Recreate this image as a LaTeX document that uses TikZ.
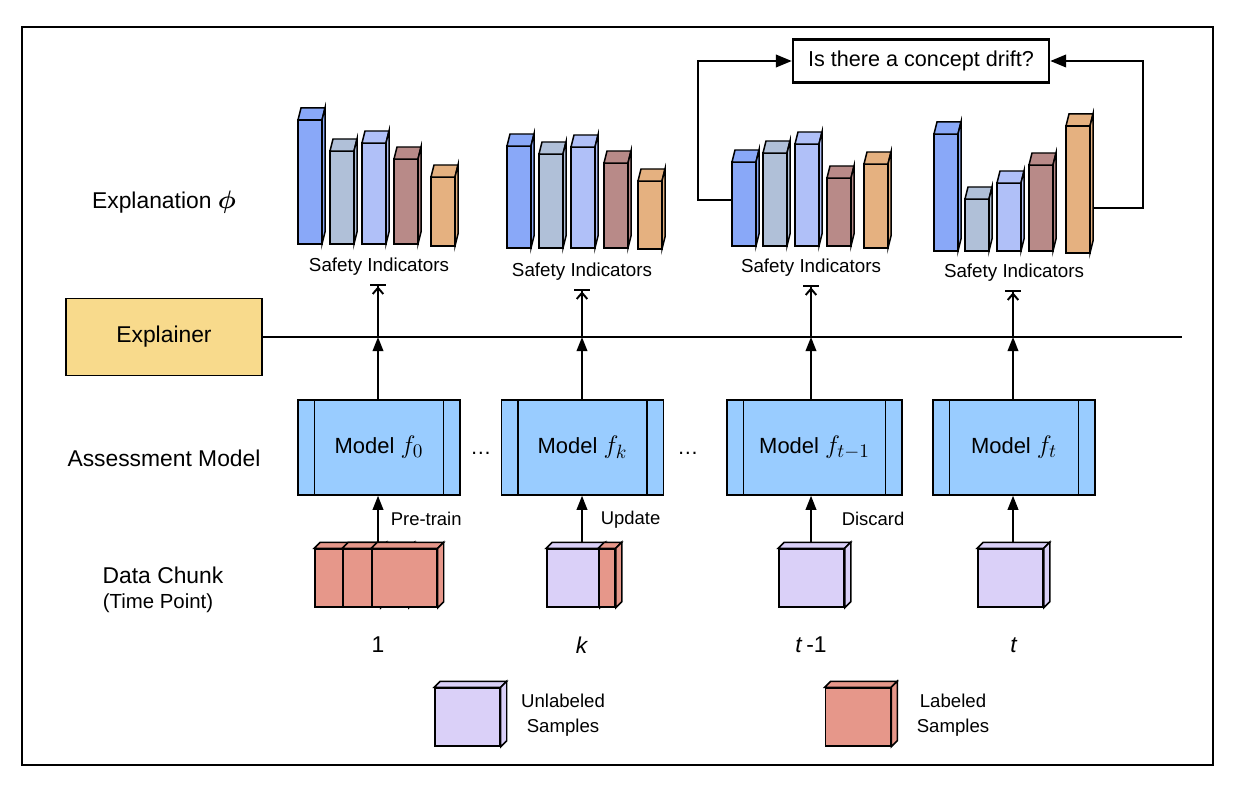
\documentclass[tikz,border=0pt]{standalone}
\usepackage{fontspec}
\setmainfont{Liberation Sans}
\usepackage{amsmath}
\usepackage{bm}
\usetikzlibrary{arrows.meta}

\definecolor{barA}{HTML}{89A8F8}
\definecolor{barB}{HTML}{B0C0D8}
\definecolor{barC}{HTML}{B0C0F8}
\definecolor{barD}{HTML}{B88A88}
\definecolor{barE}{HTML}{E5B180}
\definecolor{modelblue}{HTML}{99CCFF}
\definecolor{explyellow}{HTML}{F8DA8C}
\definecolor{labred}{HTML}{E6978A}
\definecolor{unlabpurple}{HTML}{DAD0F8}

\newcommand{\sibar}[4]{%
  \filldraw[fill=#4] (#1,#3) rectangle (#1+24,#2);
  \filldraw[fill=#4] (#1,#2) -- (#1+3,#2-12) -- (#1+27,#2-12) -- (#1+24,#2) -- cycle;
  \filldraw[fill=#4] (#1+24,#2) -- (#1+27,#2-12) -- (#1+27,#3-12) -- (#1+24,#3) -- cycle;}
\newcommand{\cubefaces}[2]{%
  \filldraw[fill=#2] (#1.north west) -- ++(6,-6) -- ([shift={(6,-6)}]#1.north east) -- (#1.north east) -- cycle;
  \filldraw[fill=#2] (#1.north east) -- ++(6,-6) -- ([shift={(6,-6)}]#1.south east) -- (#1.south east) -- cycle;}
\newcommand{\mf}[1]{{\fontsize{15}{17}\selectfont$f_{#1}$}}

\begin{document}
\begin{tikzpicture}[x=0.02cm, y=-0.02cm, line width=0.85pt,
  side label/.style={font=\fontsize{13}{15}\selectfont},
  model node/.style={draw, fill=modelblue, minimum width=3.24cm, minimum height=1.9cm,
    font=\fontsize{12.5}{14}\selectfont,
    path picture={
      \draw ([xshift=0.33cm]path picture bounding box.north west) -- ([xshift=0.33cm]path picture bounding box.south west);
      \draw ([xshift=-0.33cm]path picture bounding box.north east) -- ([xshift=-0.33cm]path picture bounding box.south east);}},
  chunk node/.style={draw, fill=#1, inner sep=0pt, minimum width=1.3cm, minimum height=1.16cm},
  si label/.style={font=\fontsize{10.7}{12}\selectfont, inner ysep=4.5pt},
  small label/.style={font=\fontsize{10.5}{12}\selectfont, anchor=west},
  up arrow/.style={line width=1.1pt, -{Triangle[length=8pt, width=6pt]}},
  tee arrow/.style={line width=1.1pt, -{Straight Barb[length=3.5pt, width=6pt] Bar[width=9pt]}},
  loop arrow/.style={line width=1.4pt, -{Triangle[length=9pt, width=7pt]}}]
\useasboundingbox (0,0) rectangle (1250,800);
\draw[line width=1.2pt] (22,27) rectangle (1213,765);

\node[side label] (lexp) at (164,202) {Explanation {\fontsize{15}{17}\selectfont$\bm{\phi}$}};
\node[side label, draw, fill=explyellow, minimum width=3.92cm, minimum height=1.54cm] (ex) at (164,337) {Explainer};
\node[side label] (lass) at (164,458) {Assessment Model};
\node[side label] (ldata) at (163,575) {Data Chunk};
\node[font=\fontsize{11.6}{13}\selectfont] (ltime) at (158,603) {(Time Point)};

\sibar{298}{120}{244}{barA}
\sibar{330}{151}{244}{barB}
\sibar{362}{143}{244}{barC}
\sibar{394}{159}{244}{barD}
\sibar{431}{177}{246}{barE}
\sibar{507}{146}{248}{barA}
\sibar{539}{154}{248}{barB}
\sibar{571}{147}{248}{barC}
\sibar{604}{163}{248}{barD}
\sibar{638}{181}{249}{barE}
\sibar{732}{162}{246}{barA}
\sibar{763}{153}{246}{barB}
\sibar{795}{144}{246}{barC}
\sibar{827}{178}{246}{barD}
\sibar{864}{164}{248}{barE}
\sibar{934}{134}{251}{barA}
\sibar{965}{199}{251}{barB}
\sibar{997}{183}{251}{barC}
\sibar{1029}{165}{251}{barD}
\sibar{1066}{126}{253}{barE}

\node[si label] (s0) at (379,267) {Safety Indicators};
\node[si label] (s1) at (582,272) {Safety Indicators};
\node[si label] (s2) at (811,268) {Safety Indicators};
\node[si label] (s3) at (1014,273) {Safety Indicators};

\node[draw, line width=1.4pt, minimum width=5.12cm, minimum height=0.86cm,
      font=\fontsize{12.3}{14}\selectfont] (q) at (921,61) {Is there a concept drift?};
\coordinate (b3) at (732,200);
\coordinate (b4) at (1093,208);
\draw[loop arrow] (b3) -- ++(-34,0) |- (q.west);
\draw[loop arrow] (b4) -- ++(50,0) |- (q.east);

\node[model node] (m0) at (379,447.5) {Model \mf{0}};
\node[model node] (m1) at (582.5,447.5) {Model \mf{k}};
\node[model node, minimum width=3.5cm] (m2) at (814.5,447.5) {Model \mf{t-1}};
\node[model node] (m3) at (1014,447.5) {Model \mf{t}};
\node[font=\fontsize{12}{14}\selectfont] (dots0) at (481,453) {\dots};
\node[font=\fontsize{12}{14}\selectfont] (dots1) at (688,453) {\dots};

\coordinate (lineend) at (1182,337);
\draw[line width=1.3pt] (ex.east) -- (lineend);

\node[chunk node=labred] (d0a) at (347.5,578) {};
\cubefaces{d0a}{labred}
\node[chunk node=labred] (d0b) at (375.5,578) {};
\cubefaces{d0b}{labred}
\node[chunk node=labred] (d0c) at (404.5,578) {};
\cubefaces{d0c}{labred}
\node[chunk node=unlabpurple, minimum width=1.04cm] (d1a) at (573,578) {};
\cubefaces{d1a}{unlabpurple}
\node[chunk node=labred, minimum width=0.32cm] (d1b) at (607,578) {};
\cubefaces{d1b}{labred}
\node[chunk node=unlabpurple] (d2) at (811.5,578) {};
\cubefaces{d2}{unlabpurple}
\node[chunk node=unlabpurple] (d3) at (1010.5,578) {};
\cubefaces{d3}{unlabpurple}

\coordinate (t0) at (378,543);
\coordinate (t1) at (582,543);
\coordinate (t2) at (811,543);
\coordinate (t3) at (1013,543);

\draw[up arrow] (t0) -- (t0 |- m0.south) node[small label, midway, xshift=0.12cm] (pre) {Pre-train};
\draw[up arrow] (t1) -- (t1 |- m1.south) node[small label, midway, xshift=0.24cm] (upd) {Update};
\draw[up arrow] (t2) -- (t2 |- m2.south) node[small label, midway, xshift=0.48cm] (dis) {Discard};
\draw[up arrow] (t3) -- (t3 |- m3.south);

\draw[up arrow] (t0 |- m0.north) -- (t0 |- lineend);
\draw[up arrow] (t1 |- m1.north) -- (t1 |- lineend);
\draw[up arrow] (t2 |- m2.north) -- (t2 |- lineend);
\draw[up arrow] (t3 |- m3.north) -- (t3 |- lineend);
\draw[tee arrow] (t0 |- lineend) -- (t0 |- s0.south);
\draw[tee arrow] (t1 |- lineend) -- (t1 |- s1.south);
\draw[tee arrow] (t2 |- lineend) -- (t2 |- s2.south);
\draw[tee arrow] (t3 |- lineend) -- (t3 |- s3.south);

\node[side label] (n0) at (378,645) {1};
\node[side label] (n1) at (582,645) {\textit{k}};
\node[side label] (n2) at (811,645) {\textit{t}\,-1};
\node[side label] (n3) at (1014,645) {\textit{t}};

\node[chunk node=unlabpurple] (leg0) at (467.5,717) {};
\cubefaces{leg0}{unlabpurple}
\node[font=\fontsize{10.6}{14.5}\selectfont, align=center] (legt0) at (563,715) {Unlabeled\\Samples};
\node[chunk node=labred] (leg1) at (858,717) {};
\cubefaces{leg1}{labred}
\node[font=\fontsize{10.6}{14.5}\selectfont, align=center] (legt1) at (953,715) {Labeled\\Samples};
\end{tikzpicture}
\end{document}
